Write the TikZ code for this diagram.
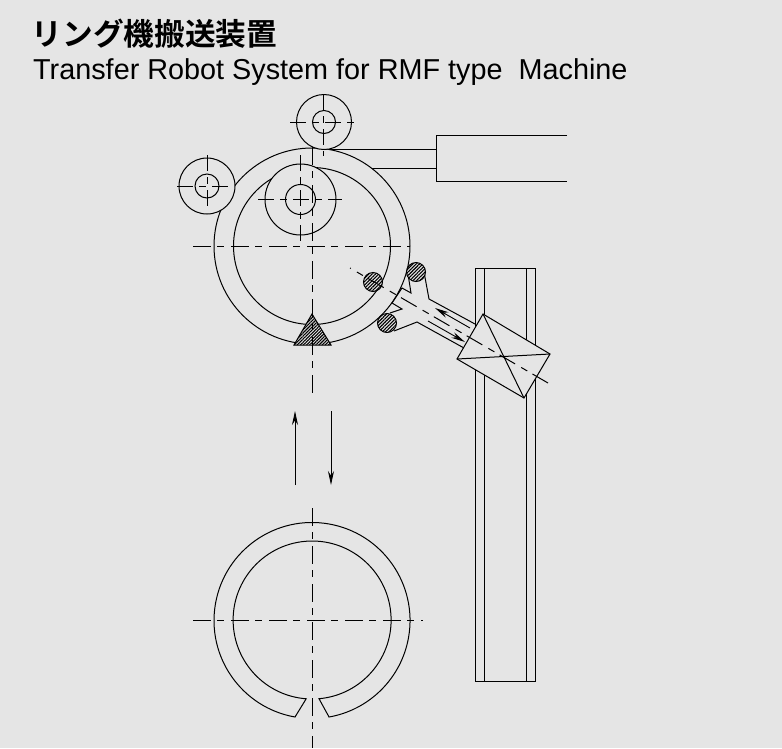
\documentclass[tikz,border=0pt]{standalone}
\usepackage{fontspec}
\setmainfont{Liberation Sans}
\newfontfamily\cjk{Noto Sans CJK JP Bold}
\usetikzlibrary{arrows.meta, patterns.meta}
\definecolor{paper}{gray}{0.898}
\tikzset{
    part/.style = {draw, line width = 1pt, fill = paper},
    outline/.style = {draw, line width = 1pt},
    roller/.style = {part, circle, inner sep = 0pt, outer sep = 0pt},
    pinch/.style = {roller, postaction = {pattern = {Lines[angle=45, distance=2.4pt, line width=1.1pt]}}},
    axis/.style = {line width = 1pt, dash pattern = on 18pt off 6pt on 7pt off 7pt},
    cross/.style = {line width = 1pt, dash pattern = on 16pt off 6pt on 7pt off 6pt},
    line/.style = {line width = 0.9pt, -{Stealth[length = 14pt, width = 6pt]}}
}

\begin{document}
\begin{tikzpicture}[x = 1pt, y = 1pt]

    \fill[paper] (0,0) rectangle (782,-748);
    \useasboundingbox (0,0) rectangle (782,-748);

    \node[anchor = base west, inner sep = 0pt] (titleJa) at (31.5,-45) {\fontsize{30.7}{30}\selectfont\cjk リング機搬送装置};
    \node[anchor = base west, inner sep = 0pt] (titleEn) at (33,-79) {\fontsize{28.8}{30}\selectfont Transfer Robot System for RMF type\ \ Machine};

    % rail
    \draw[outline] (475,-681) -- (475,-268) -- (535,-268) -- (535,-681) -- cycle;
    \draw[outline] (484,-268) -- (484,-681);
    \draw[outline] (526,-268) -- (526,-681);

    % cylinder
    \draw[outline] (322,-149) -- (436,-149);
    \draw[outline] (372,-168) -- (436,-168);
    \draw[outline] (567,-135) -- (436,-135) -- (436,-181) -- (567,-181);

    % upper ring
    \node[roller, minimum size = 196pt] (ringOut) at (312,-246) {};
    \node[roller, minimum size = 157pt] (ringIn) at (312,-246) {};

    % rollers
    \node[roller, minimum size = 55pt] (rollerTop) at (324,-122) {};
    \node[roller, minimum size = 23pt] (hubTop) at (324,-122) {};
    \node[roller, minimum size = 56pt] (rollerLeft) at (207,-186) {};
    \node[roller, minimum size = 24pt] (hubLeft) at (207,-186) {};
    \node[roller, minimum size = 71pt] (rollerMid) at (300.5,-199.5) {};
    \node[roller, minimum size = 30pt] (hubMid) at (300.5,-199.5) {};

    \draw[cross] (290,-122) -- (358,-122);
    \draw[cross] (323.5,-94) -- (323.5,-156);
    \draw[cross] (177,-186) -- (232,-186);
    \draw[cross] (207,-155) -- (207,-209);
    \draw[cross] (258,-199.5) -- (342,-199.5);
    \draw[cross] (300.5,-155) -- (300.5,-242);

    % robot hand
    \coordinate (boxA) at (483,-314);
    \coordinate (boxB) at (550,-354);
    \coordinate (boxC) at (524,-398);
    \coordinate (boxD) at (457,-359);
    \draw[outline] (424,-272) -- (429,-299) -- (475,-324);
    \draw[outline] (464,-348) -- (417,-322) -- (394,-331);
    \draw[outline] (408,-274) -- (411,-293) -- (402,-288) -- (392,-303) -- (402,-309) -- (390,-313);
    \node[pinch, minimum size = 19pt] (pinchA) at (373,-282) {};
    \node[pinch, minimum size = 19pt] (pinchB) at (416,-272) {};
    \node[pinch, minimum size = 19pt] (pinchC) at (387,-323) {};
    \draw[part] (boxA) -- (boxB) -- (boxC) -- (boxD) -- cycle;
    \draw[outline] (boxA) -- (boxC);
    \draw[outline] (boxD) -- (boxB);
    \draw[line] (470,-328) -- (435,-308);
    \draw[line] (428,-321) -- (465,-342);
    \draw[axis] (548,-383) -- (350,-268);

    % support block
    \coordinate (triTop) at (312,-314);
    \coordinate (triLeft) at (294,-345);
    \coordinate (triRight) at (331,-345);
    \draw[part] (triTop) -- (triLeft) -- (triRight) -- cycle;
    \path[pattern = {Lines[angle=45, distance=2.2pt, line width=1.1pt]}] (triTop) -- (triLeft) -- (triRight) -- cycle;

    % lower ring
    \draw[outline] (295,-717) arc[start angle = 260, end angle = -80, radius = 98]
        -- (319,-698.7) arc[start angle = -85, end angle = 265.7, radius = 79] -- cycle;

    % center lines
    \draw[axis] (312,-147) -- (312,-398);
    \draw[axis] (312,-508) -- (312,-748);
    \draw[axis] (193,-246) -- (410,-246);
    \draw[axis] (193,-620) -- (423,-620);

    % travel
    \coordinate (upA) at (295,-485);
    \coordinate (upB) at (295,-411);
    \coordinate (downA) at (331,-411);
    \coordinate (downB) at (331,-485);
    \draw[line] (upA) -- (upB);
    \draw[line] (downA) -- (downB);

\end{tikzpicture}
\end{document}
